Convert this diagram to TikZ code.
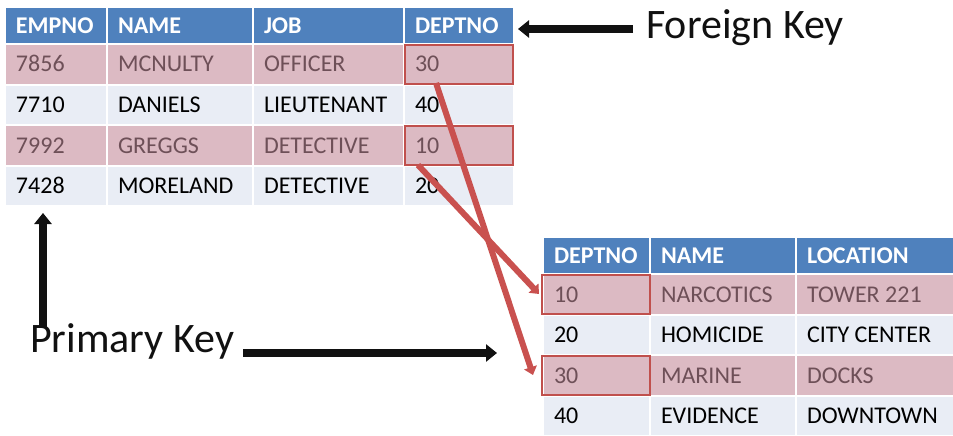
\documentclass[tikz,border=0pt]{standalone}
\usepackage{fontspec}
\setmainfont{Carlito}
\usetikzlibrary{arrows.meta,fit}
\definecolor{hdrblue}{HTML}{4F81BD}
\definecolor{rowlight}{HTML}{E9EDF5}
\definecolor{rowpink}{HTML}{DCBAC3}
\definecolor{pinktext}{HTML}{6E5058}
\definecolor{keyred}{HTML}{C0504D}
\definecolor{linered}{HTML}{C9514F}
\definecolor{inkblack}{HTML}{111111}
\tikzset{
  cellbg/.style={draw=none, inner sep=0pt, outer sep=0pt},
  basetext/.style={inner sep=0pt, outer sep=0pt, text height=15.5pt, text depth=0pt},
  hdrtext/.style={basetext, font=\bfseries\fontsize{24}{28}\selectfont, text=white},
  bodytext/.style={basetext, font=\fontsize{24}{28}\selectfont, text=black},
  hltext/.style={basetext, font=\fontsize{24}{28}\selectfont, text=pinktext},
  keylabel/.style={inner sep=0pt, font=\fontsize{42}{48}\selectfont, text=inkblack},
  redbox/.style={draw=keyred, line width=2pt},
  redarrow/.style={draw=linered, line width=6pt, -{Triangle[length=8pt,width=13pt]}},
  blackarrow/.style={draw=inkblack, line width=7.5pt, -{Triangle[length=11pt,width=17pt]}},
}
\newcommand\mycell[8]{%
  \node[cellbg, fill=#6, fit={(#2+1,#3+1) (#4-1,#5-1)}] (#1) {};
  \node[#7, anchor=west] (#1t) at ([xshift=10pt]#1.west) {#8};}
\begin{document}
\begin{tikzpicture}[x=1pt,y=-1pt]
\useasboundingbox[fill=white] (0,0) rectangle (953,436);
% ---------- EMP table ----------
\mycell{a01}{5}{7}{107}{44}{hdrblue}{hdrtext}{EMPNO}
\mycell{a02}{107}{7}{253}{44}{hdrblue}{hdrtext}{NAME}
\mycell{a03}{253}{7}{404}{44}{hdrblue}{hdrtext}{JOB}
\mycell{a04}{404}{7}{514}{44}{hdrblue}{hdrtext}{DEPTNO}
\mycell{a11}{5}{44}{107}{84.5}{rowpink}{hltext}{7856}
\mycell{a12}{107}{44}{253}{84.5}{rowpink}{hltext}{MCNULTY}
\mycell{a13}{253}{44}{404}{84.5}{rowpink}{hltext}{OFFICER}
\mycell{a14}{404}{44}{514}{84.5}{rowpink}{hltext}{30}
\mycell{a21}{5}{84.5}{107}{125}{rowlight}{bodytext}{7710}
\mycell{a22}{107}{84.5}{253}{125}{rowlight}{bodytext}{DANIELS}
\mycell{a23}{253}{84.5}{404}{125}{rowlight}{bodytext}{LIEUTENANT}
\mycell{a24}{404}{84.5}{514}{125}{rowlight}{bodytext}{40}
\mycell{a31}{5}{125}{107}{165.5}{rowpink}{hltext}{7992}
\mycell{a32}{107}{125}{253}{165.5}{rowpink}{hltext}{GREGGS}
\mycell{a33}{253}{125}{404}{165.5}{rowpink}{hltext}{DETECTIVE}
\mycell{a34}{404}{125}{514}{165.5}{rowpink}{hltext}{10}
\mycell{a41}{5}{165.5}{107}{206}{rowlight}{bodytext}{7428}
\mycell{a42}{107}{165.5}{253}{206}{rowlight}{bodytext}{MORELAND}
\mycell{a43}{253}{165.5}{404}{206}{rowlight}{bodytext}{DETECTIVE}
\mycell{a44}{404}{165.5}{514}{206}{rowlight}{bodytext}{20}
% ---------- DEPT table ----------
\mycell{b01}{543}{237}{650}{274}{hdrblue}{hdrtext}{DEPTNO}
\mycell{b02}{650}{237}{796}{274}{hdrblue}{hdrtext}{NAME}
\mycell{b03}{796}{237}{956}{274}{hdrblue}{hdrtext}{LOCATION}
\mycell{b11}{543}{274}{650}{314.5}{rowpink}{hltext}{10}
\mycell{b12}{650}{274}{796}{314.5}{rowpink}{hltext}{NARCOTICS}
\mycell{b13}{796}{274}{956}{314.5}{rowpink}{hltext}{TOWER 221}
\mycell{b21}{543}{314.5}{650}{355}{rowlight}{bodytext}{20}
\mycell{b22}{650}{314.5}{796}{355}{rowlight}{bodytext}{HOMICIDE}
\mycell{b23}{796}{314.5}{956}{355}{rowlight}{bodytext}{CITY CENTER}
\mycell{b31}{543}{355}{650}{395.5}{rowpink}{hltext}{30}
\mycell{b32}{650}{355}{796}{395.5}{rowpink}{hltext}{MARINE}
\mycell{b33}{796}{355}{956}{395.5}{rowpink}{hltext}{DOCKS}
\mycell{b41}{543}{395.5}{650}{436}{rowlight}{bodytext}{40}
\mycell{b42}{650}{395.5}{796}{436}{rowlight}{bodytext}{EVIDENCE}
\mycell{b43}{796}{395.5}{956}{436}{rowlight}{bodytext}{DOWNTOWN}
% ---------- key boxes ----------
\draw[redbox] (a14.north west) rectangle (a14.south east);
\draw[redbox] (a34.north west) rectangle (a34.south east);
\draw[redbox] ([xshift=-2pt]b11.north west) rectangle ([xshift=1pt]b11.south east);
\draw[redbox] ([xshift=-2pt]b31.north west) rectangle ([xshift=1pt]b31.south east);
% ---------- labels ----------
\node[keylabel, anchor=base west] (fk) at (646,39) {Foreign Key};
\node[keylabel, anchor=base west] (pk) at (30,352) {Primary Key};
% ---------- connectors ----------
\coordinate (r1a) at (436,83);
\coordinate (r1b) at (533,375);
\coordinate (r2a) at (418,165);
\coordinate (r2b) at (539,294);
\draw[redarrow] (r1a) -- (r1b);
\draw[redarrow] (r2a) -- (r2b);
\coordinate (fka) at (633,29);
\coordinate (fkb) at (518,29);
\draw[blackarrow] (fka) -- (fkb);
\coordinate (pua) at (43,328);
\coordinate (pub) at (43,213);
\draw[blackarrow] (pua) -- (pub);
\coordinate (pra) at (243,353);
\coordinate (prb) at (497,353);
\draw[blackarrow] (pra) -- (prb);
\end{tikzpicture}
\end{document}
